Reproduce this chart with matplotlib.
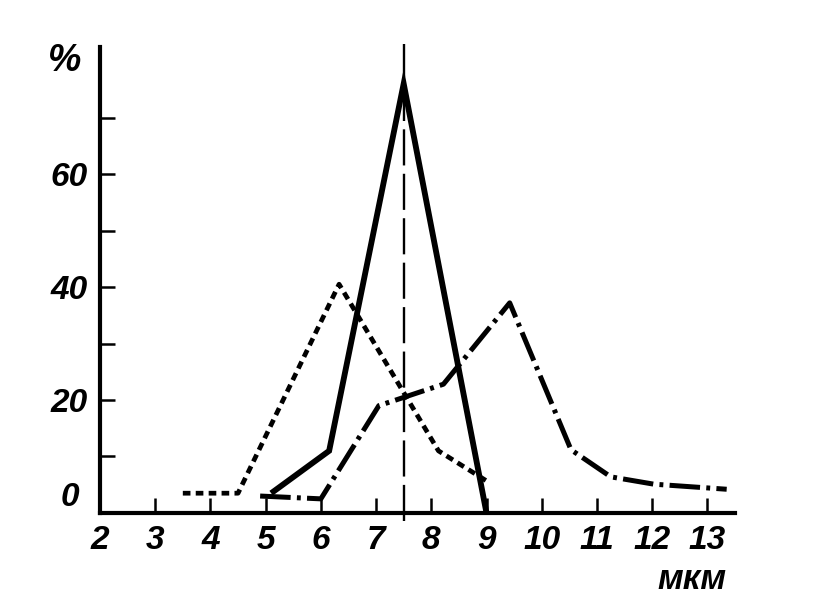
import matplotlib

matplotlib.use("Agg")
import matplotlib.pyplot as plt
import matplotlib.transforms as mtransforms


# particle size, micrometres
solid_x = [5.1, 6.15, 7.5, 9.0]
solid_y = [3.5, 11.0, 76.0, 0.0]

dotted_x = [3.5, 4.5, 6.33, 8.13, 9.03]
dotted_y = [3.5, 3.5, 40.5, 11.0, 5.5]

dashdot_x = [4.9, 6.0, 7.05, 8.22, 9.42, 10.53, 11.25, 12.03, 13.35]
dashdot_y = [3.0, 2.5, 19.0, 22.8, 37.2, 11.2, 6.4, 5.1, 4.2]

mean_size = 7.5

x_ticks = [2, 3, 4, 5, 6, 7, 8, 9, 10, 11, 12, 13]
y_ticks = [10, 20, 30, 40, 50, 60, 70]
y_labels = ["", "20", "", "40", "", "60", ""]

FONT = ["Liberation Sans Narrow", "Liberation Sans", "DejaVu Sans"]


def main() -> None:
    plt.rcParams["font.family"] = FONT
    plt.rcParams["lines.scale_dashes"] = False

    fig = plt.figure(figsize=(8.17, 6.04), dpi=100)
    fig.patch.set_facecolor("white")
    ax = fig.add_axes([0.1224, 0.1507, 0.7772, 0.7715])

    ink = "black"
    ax.plot(solid_x, solid_y, color=ink, linewidth=4.2, solid_joinstyle="miter",
            solid_capstyle="butt", clip_on=False)
    ax.plot(dotted_x, dotted_y, color=ink, linewidth=3.4,
            linestyle=(0, (5.5, 3.8)), dash_capstyle="butt", clip_on=False)
    ax.plot(dashdot_x, dashdot_y, color=ink, linewidth=3.6,
            linestyle=(0, (22, 4.5, 2.8, 4.5)), dash_capstyle="butt", clip_on=False)
    ax.plot([mean_size, mean_size], [-1.5, 83.0], color=ink, linewidth=1.7,
            linestyle=(0, (26, 6)), clip_on=False)

    ax.set_xlim(2, 13.5)
    ax.set_ylim(0, 82.5)

    for side in ("top", "right"):
        ax.spines[side].set_visible(False)
    for side in ("left", "bottom"):
        ax.spines[side].set_linewidth(3.0)
        ax.spines[side].set_capstyle("projecting")

    ax.set_xticks(x_ticks)
    ax.set_xticklabels([str(t) for t in x_ticks])
    ax.set_yticks(y_ticks)
    ax.set_yticklabels(y_labels)
    ax.tick_params(axis="both", direction="in", length=11, width=1.8, color=ink,
                   labelsize=24, pad=9)
    for lab in ax.get_xticklabels() + ax.get_yticklabels():
        lab.set_fontstyle("italic")
        lab.set_fontweight("bold")
    ax.xaxis.get_major_ticks()[0].tick1line.set_visible(False)

    trans = mtransforms.blended_transform_factory(ax.transAxes, ax.transData)
    ax.text(-0.033, 2.8, "0", transform=trans, ha="right", va="center",
            fontsize=24, fontstyle="italic", fontweight="bold")
    ax.text(-0.030, 80.0, "%", transform=trans, ha="right", va="center",
            fontsize=27, fontstyle="italic", fontweight="bold")
    fig.text(0.847, 0.04, "мкм", ha="center", va="center", fontsize=25,
             fontstyle="italic", fontweight="bold")

    fig.savefig("out.png", dpi=100, facecolor="white")
    plt.close(fig)


if __name__ == "__main__":
    main()
